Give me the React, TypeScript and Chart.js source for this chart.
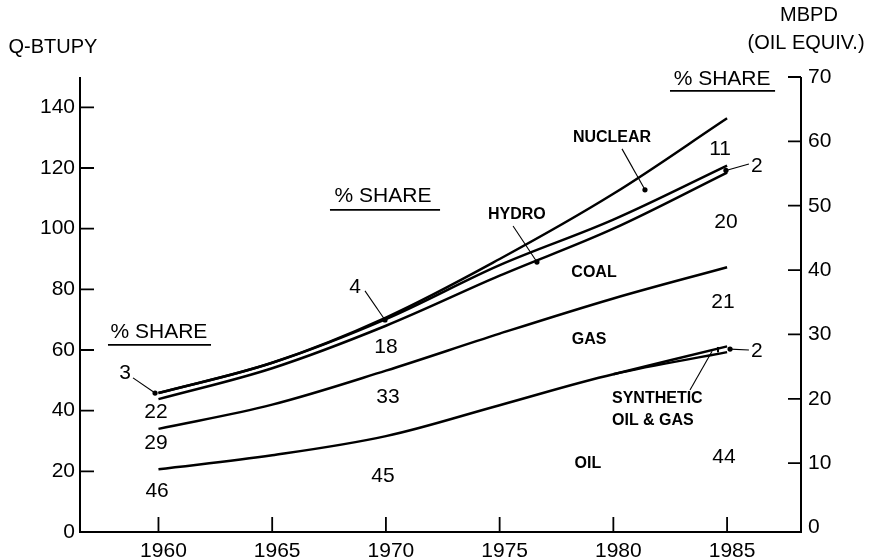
import React, { useEffect, useRef } from "react";
import { Chart, registerables } from "chart.js";
Chart.register(...registerables);

// ---- data (cumulative Q-BTU per year) ----
const years = [1960, 1965, 1970, 1975, 1980, 1985];
const oilTop = [20.7, 25.3, 31.6, 41.8, 52.0, 59.3];
const synthTop = [null, null, null, null, 52.0, 61.2];
const gasTop = [34.0, 42.0, 53.2, 65.4, 77.0, 87.3];
const coalTop = [43.8, 54.0, 68.0, 84.5, 100.0, 118.5];
const hydroTop = [45.8, 55.8, 70.2, 88.0, 103.0, 120.8];
const nuclearTop = [45.8, 55.8, 70.7, 90.0, 111.5, 136.4];

const xTickStep = 5;
const leftTickStep = 20;
const rightTickStep = 10;

// ---- annotations (data coordinates) ----
const texts = [
  { t: "% SHARE", x: 1960.02, y: 65.9, s: 21, b: false },
  { t: "% SHARE", x: 1969.87, y: 110.8, s: 21, b: false },
  { t: "% SHARE", x: 1984.78, y: 149.4, s: 21, b: false },
  { t: "3", x: 1958.53, y: 52.4, s: 21, b: false },
  { t: "22", x: 1959.89, y: 39.6, s: 21, b: false },
  { t: "29", x: 1959.89, y: 29.3, s: 21, b: false },
  { t: "46", x: 1959.94, y: 13.5, s: 21, b: false },
  { t: "4", x: 1968.64, y: 80.8, s: 21, b: false },
  { t: "18", x: 1970.0, y: 61.0, s: 21, b: false },
  { t: "33", x: 1970.09, y: 44.5, s: 21, b: false },
  { t: "45", x: 1969.87, y: 18.5, s: 21, b: false },
  { t: "11", x: 1984.69, y: 126.3, s: 21, b: false },
  { t: "2", x: 1986.31, y: 120.7, s: 21, b: false },
  { t: "20", x: 1984.95, y: 102.2, s: 21, b: false },
  { t: "21", x: 1984.82, y: 75.8, s: 21, b: false },
  { t: "2", x: 1986.31, y: 59.7, s: 21, b: false },
  { t: "44", x: 1984.86, y: 24.7, s: 21, b: false },
  { t: "HYDRO", x: 1975.76, y: 104.5, s: 16, b: true },
  { t: "NUCLEAR", x: 1979.94, y: 129.9, s: 16, b: true },
  { t: "COAL", x: 1979.15, y: 85.4, s: 16, b: true },
  { t: "GAS", x: 1978.93, y: 63.3, s: 16, b: true },
  { t: "OIL", x: 1978.88, y: 22.7, s: 16, b: true },
];
const leftTexts = [
  { t: "SYNTHETIC", x: 1979.94, y: 43.9, s: 16, b: true },
  { t: "OIL & GAS", x: 1979.94, y: 36.6, s: 16, b: true },
];
const underlines = [
  { x1: 1957.78, x2: 1962.31, y: 61.7 },
  { x1: 1967.54, x2: 1972.38, y: 106.2 },
  { x1: 1982.49, x2: 1987.11, y: 145.4 },
];
const pointers = [
  { x1: 1958.88, y1: 50.8, x2: 1959.85, y2: 45.8 },
  { x1: 1969.08, y1: 79.5, x2: 1969.96, y2: 69.9 },
  { x1: 1975.59, y1: 100.9, x2: 1976.64, y2: 89.0 },
  { x1: 1980.38, y1: 126.3, x2: 1981.39, y2: 112.8 },
  { x1: 1985.96, y1: 121.3, x2: 1984.95, y2: 119.2 },
  { x1: 1985.96, y1: 60.0, x2: 1985.13, y2: 60.3 },
  { x1: 1983.37, y1: 46.8, x2: 1984.34, y2: 59.6, nodot: true },
];

const FONT = '"Liberation Sans", Arial, sans-serif';

function pts(vals: (number | null)[]) {
  const out: { x: number; y: number }[] = [];
  vals.forEach((v, i) => {
    if (v !== null) out.push({ x: years[i], y: v });
  });
  return out;
}

const decor = {
  id: "decor",
  afterDatasetsDraw(chart: any) {
    const { ctx, chartArea: a, scales } = chart;
    const xs = scales.x, ys = scales.y, y2 = scales.y2;
    const X = (v: number) => xs.getPixelForValue(v);
    const Y = (v: number) => ys.getPixelForValue(v);
    ctx.save();
    ctx.strokeStyle = "#000";
    ctx.fillStyle = "#000";
    ctx.lineWidth = 2;
    ctx.lineCap = "butt";
    // axes
    ctx.beginPath();
    ctx.moveTo(a.left, a.top);
    ctx.lineTo(a.left, a.bottom);
    ctx.lineTo(a.right, a.bottom);
    ctx.lineTo(a.right, a.top);
    ctx.stroke();
    // inward ticks
    ctx.lineWidth = 1.8;
    ctx.beginPath();
    xs.ticks.forEach((t: any) => {
      const p = X(t.value);
      ctx.moveTo(p, a.bottom);
      ctx.lineTo(p, a.bottom - 15);
    });
    ys.ticks.forEach((t: any) => {
      if (t.value === 0) return;
      const p = Y(t.value);
      ctx.moveTo(a.left, p);
      ctx.lineTo(a.left + 14, p);
    });
    y2.ticks.forEach((t: any) => {
      if (t.value === 0) return;
      const p = y2.getPixelForValue(t.value);
      ctx.moveTo(a.right, p);
      ctx.lineTo(a.right - 13, p);
    });
    ctx.stroke();

    // synthetic bracket
    const bx = X(1984.6);
    ctx.lineWidth = 2;
    ctx.beginPath();
    ctx.moveTo(bx, Y(61.0));
    ctx.lineTo(bx, Y(59.2));
    ctx.stroke();

    // underlines
    ctx.lineWidth = 1.8;
    underlines.forEach((u) => {
      ctx.beginPath();
      ctx.moveTo(X(u.x1), Y(u.y));
      ctx.lineTo(X(u.x2), Y(u.y));
      ctx.stroke();
    });
    // pointers
    ctx.lineWidth = 1.1;
    pointers.forEach((p: any) => {
      ctx.beginPath();
      ctx.moveTo(X(p.x1), Y(p.y1));
      ctx.lineTo(X(p.x2), Y(p.y2));
      ctx.stroke();
      if (!p.nodot) {
        ctx.beginPath();
        ctx.arc(X(p.x2), Y(p.y2), 2.6, 0, Math.PI * 2);
        ctx.fill();
      }
    });
    // texts
    ctx.textBaseline = "middle";
    ctx.textAlign = "center";
    texts.forEach((t) => {
      ctx.font = `${t.b ? "bold " : ""}${t.s}px ${FONT}`;
      ctx.fillText(t.t, X(t.x), Y(t.y));
    });
    ctx.textAlign = "left";
    leftTexts.forEach((t) => {
      ctx.font = `${t.b ? "bold " : ""}${t.s}px ${FONT}`;
      ctx.fillText(t.t, X(t.x), Y(t.y));
    });
    // axis titles
    ctx.font = `20px ${FONT}`;
    ctx.textAlign = "center";
    ctx.fillText("Q-BTUPY", a.left - 27, a.top - 30);
    ctx.fillText("MBPD", a.right + 8, a.top - 62);
    ctx.fillText("(OIL EQUIV.)", a.right + 5, a.top - 34);
    ctx.restore();
  },
};

export default function App() {
  const ref = useRef<HTMLCanvasElement | null>(null);
  useEffect(() => {
    document.body.style.margin = "0";
    const lineDs = (vals: (number | null)[]) => ({
      data: pts(vals),
      borderColor: "#000",
      borderWidth: 2.5,
      pointRadius: 0,
      fill: false,
      tension: 0.35,
    });
    const chart = new Chart(ref.current as HTMLCanvasElement, {
      type: "line",
      data: {
        datasets: [
          lineDs(oilTop),
          lineDs(synthTop),
          lineDs(gasTop),
          lineDs(coalTop),
          lineDs(hydroTop),
          lineDs(nuclearTop),
        ],
      },
      options: {
        animation: false,
        responsive: false,
        devicePixelRatio: 1,
        layout: { padding: { top: 77, left: 0, right: 0, bottom: 0 } },
        plugins: { legend: { display: false }, tooltip: { enabled: false } },
        scales: {
          x: {
            type: "linear",
            min: 1956.55,
            max: 1988.25,
            grid: { display: false, drawTicks: false },
            border: { display: false },
            ticks: {
              stepSize: xTickStep,
              includeBounds: false,
              padding: 7,
              labelOffset: 5,
              maxRotation: 0,
              color: "#000",
              font: { family: FONT, size: 21 },
              callback: (v: any) => String(v),
            },
            afterFit: (s: any) => {
              s.height = 27;
            },
          },
          y: {
            position: "left",
            min: 0,
            max: 150,
            grid: { display: false, drawTicks: false },
            border: { display: false },
            ticks: {
              stepSize: leftTickStep,
              includeBounds: false,
              padding: 5,
              color: "#000",
              font: { family: FONT, size: 21 },
            },
            afterFit: (s: any) => {
              s.width = 80;
            },
          },
          y2: {
            position: "right",
            min: -0.7,
            max: 70,
            grid: { display: false, drawTicks: false },
            border: { display: false },
            ticks: {
              stepSize: rightTickStep,
              includeBounds: false,
              padding: 7,
              color: "#000",
              font: { family: FONT, size: 21 },
            },
            afterFit: (s: any) => {
              s.width = 77;
            },
          },
        },
      },
      plugins: [decor],
    });
    return () => chart.destroy();
  }, []);
  return (
    <div style={{ width: 878, height: 559, background: "#fff" }}>
      <canvas ref={ref} width={878} height={559} />
    </div>
  );
}
